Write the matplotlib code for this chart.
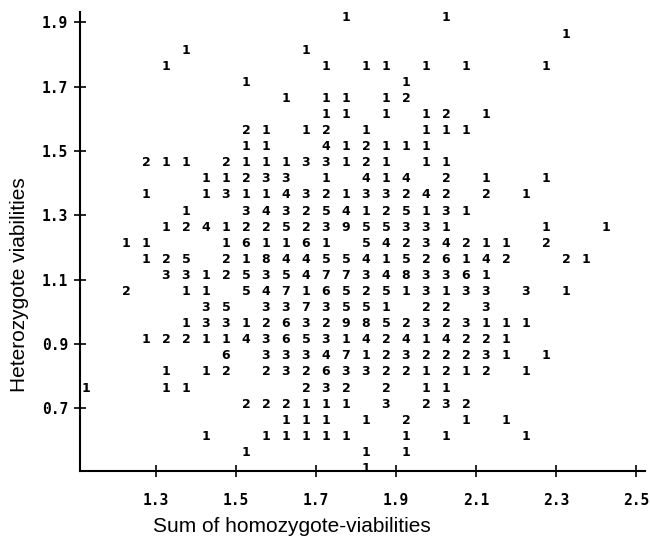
import matplotlib
matplotlib.use("Agg")
import matplotlib.pyplot as plt

# bin centres of the frequency table
x_centers = [1.125, 1.175, 1.225, 1.275, 1.325, 1.375, 1.425, 1.475, 1.525, 1.575,
             1.625, 1.675, 1.725, 1.775, 1.825, 1.875, 1.925, 1.975, 2.025, 2.075,
             2.125, 2.175, 2.225, 2.275, 2.325, 2.375, 2.425, 2.475]
y_centers = [1.925, 1.875, 1.825, 1.775, 1.725, 1.675, 1.625, 1.575, 1.525, 1.475,
             1.425, 1.375, 1.325, 1.275, 1.225, 1.175, 1.125, 1.075, 1.025, 0.975,
             0.925, 0.875, 0.825, 0.775, 0.725, 0.675, 0.625, 0.575, 0.525]

# counts per cell, one string per row (top to bottom), '.' = empty
count_rows = [
    "..... ..... ...1. ...1. ..... ...",
    "..... ..... ..... ..... ....1 ...",
    "..... 1.... .1... ..... ..... ...",
    "....1 ..... ..1.1 1.1.1 ...1. ...",
    "..... ...1. ..... .1... ..... ...",
    "..... ..... 1.11. 12... ..... ...",
    "..... ..... ..11. 1.12. 1.... ...",
    "..... ...21 .12.1 ..111 ..... ...",
    "..... ...11 ..412 111.. ..... ...",
    "...21 1.211 13312 1.11. ..... ...",
    "..... .1123 3.1.4 14.2. 1..1. ...",
    "...1. .1311 43213 3242. 2.1.. ...",
    "..... 1..34 32541 25131 ..... ...",
    "....1 24122 52395 5331. ...1. .1.",
    "..11. ..161 161.5 42342 11.2. ...",
    "...12 5.218 44554 15261 42..2 1..",
    "....3 31253 54773 48336 1.... ...",
    "..2.. 11.54 71652 51313 3.3.1 ...",
    "..... .35.3 37355 1.22. 3.... ...",
    "..... 13312 63298 52323 111.. ...",
    "...12 21143 65314 24142 21... ...",
    "..... ..6.3 33471 23222 31.1. ...",
    "....1 .12.2 32633 22121 2.1.. ...",
    "1...1 1.... .232. 2.11. ..... ...",
    "..... ...22 2111. 3.232 ..... ...",
    "..... ..... 111.1 .2..1 .1... ...",
    "..... .1..1 1111. .1.1. ..1.. ...",
    "..... ...1. ....1 .1... ..... ...",
    "..... ..... ....1 ..... ..... ...",
]

x_ticks = [1.3, 1.5, 1.7, 1.9, 2.1, 2.3, 2.5]
y_ticks = [0.7, 0.9, 1.1, 1.3, 1.5, 1.7, 1.9]

fig = plt.figure(figsize=(6.5, 5.39), dpi=100)
ax = fig.add_axes([0.123, 0.126, 0.869, 0.852])
ax.set_xlim(1.11, 2.522)
ax.set_ylim(0.505, 1.932)

for i, row in enumerate(count_rows):
    cells = row.replace(" ", "")
    assert len(cells) == len(x_centers)
    for j, ch in enumerate(cells):
        if ch != ".":
            ax.text(x_centers[j], y_centers[i] - 0.012, ch, ha="center", va="center",
                    fontsize=9, fontweight="bold", family="DejaVu Sans")

for side in ["top", "right"]:
    ax.spines[side].set_visible(False)
for side in ["left", "bottom"]:
    ax.spines[side].set_linewidth(1.5)

ax.set_xticks(x_ticks)
ax.set_yticks(y_ticks)
ax.set_xticklabels([f"{v:.1f}" for v in x_ticks], family="DejaVu Sans Mono",
                   fontweight="bold", fontsize=10.5)
ax.set_yticklabels([f"{v:.1f}" for v in y_ticks], family="DejaVu Sans Mono",
                   fontweight="bold", fontsize=10.5)
ax.tick_params(axis="x", direction="inout", length=9, width=1.2, pad=11)
ax.tick_params(axis="y", direction="inout", length=9, width=1.2, pad=4)

fig.text(292 / 650, 1 - 527 / 539, "Sum of homozygote-viabilities", ha="center",
         va="center", fontsize=15, family="Liberation Sans")
fig.text(20 / 650, 1 - 285 / 539, "Heterozygote viabilities", ha="center",
         va="center", rotation=90, fontsize=15, family="Liberation Sans")

fig.savefig("out.png", dpi=100)
